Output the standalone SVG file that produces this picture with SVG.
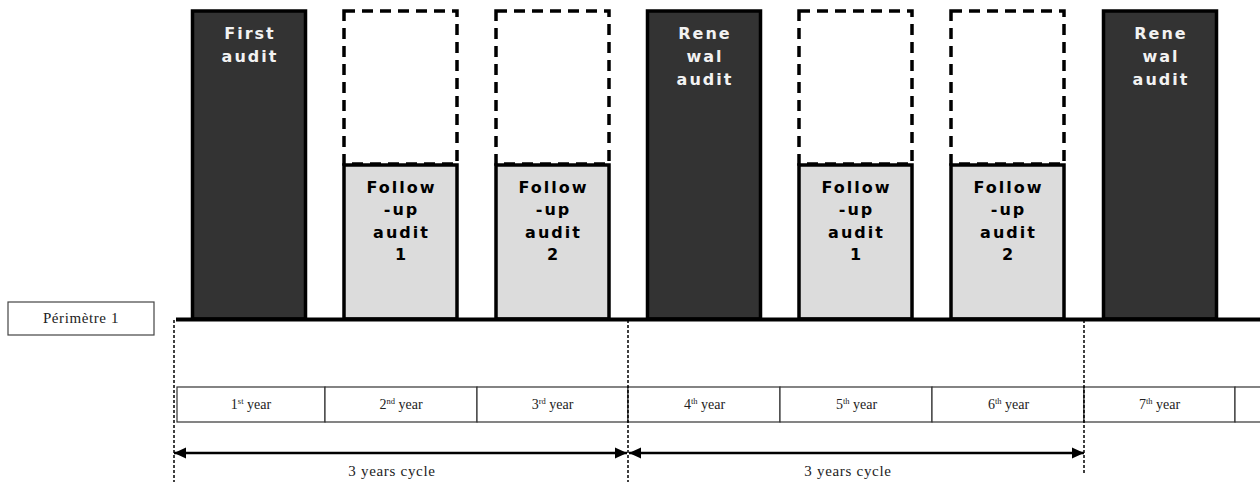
<svg xmlns="http://www.w3.org/2000/svg" width="1260" height="482" viewBox="0 0 1260 482">
<style>
.dark{fill:#333333;stroke:#000;stroke-width:3.5}
.grey{fill:#dcdcdc;stroke:#000;stroke-width:3.5}
.dash{fill:#fff;stroke:#000;stroke-width:3.5;stroke-dasharray:11 7}
.bt{font-family:"DejaVu Sans",Verdana,sans-serif;font-weight:bold;font-size:16px;letter-spacing:2px;text-anchor:middle}
.w{fill:#f2f2f2}
.k{fill:#000}
.yr{fill:#fff;stroke:#333;stroke-width:1.2}
.st{font-family:"Liberation Serif","Times New Roman",serif;font-size:14px;text-anchor:middle;fill:#222}
.sup{font-size:8.5px}
.vl{stroke:#000;stroke-width:1.5;stroke-dasharray:3 2;fill:none}
.arr{stroke:#000;stroke-width:2.5;fill:none;marker-start:url(#ah);marker-end:url(#ah)}
.cy{font-size:15px;letter-spacing:0.7px}
</style>
<defs>
<marker id="ah" viewBox="0 0 12 12" refX="12" refY="6" markerWidth="12" markerHeight="12" markerUnits="userSpaceOnUse" orient="auto-start-reverse">
<path d="M0,0.5 L12,6 L0,11.5 Z" fill="#000"/>
</marker>
</defs>
<rect width="1260" height="482" fill="#fff"/>

<g id="perimetre">
<rect x="8" y="302" width="146" height="33" fill="#fff" stroke="#444" stroke-width="1.2"/>
<text x="81" y="323" class="st" style="font-size:15px;letter-spacing:0.6px">Périmètre 1</text>
</g>

<g id="first-audit">
<rect class="dark" x="192.5" y="11" width="113" height="308"/>
<text class="bt w" x="250"><tspan x="250" y="39">First</tspan><tspan x="250" y="62">audit</tspan></text>
</g>

<g id="follow-up-1a">
<rect class="dash" x="344" y="11" width="113" height="153"/>
<rect class="grey" x="344" y="165" width="113" height="154"/>
<text class="bt k" x="401.5"><tspan x="401.5" y="193">Follow</tspan><tspan x="401.5" y="215">-up</tspan><tspan x="401.5" y="238">audit</tspan><tspan x="401.5" y="260">1</tspan></text>
</g>

<g id="follow-up-2a">
<rect class="dash" x="496" y="11" width="113" height="153"/>
<rect class="grey" x="496" y="165" width="113" height="154"/>
<text class="bt k" x="553.5"><tspan x="553.5" y="193">Follow</tspan><tspan x="553.5" y="215">-up</tspan><tspan x="553.5" y="238">audit</tspan><tspan x="553.5" y="260">2</tspan></text>
</g>

<g id="renewal-audit-1">
<rect class="dark" x="647.5" y="11" width="113" height="308"/>
<text class="bt w" x="705"><tspan x="705" y="39">Rene</tspan><tspan x="705" y="62">wal</tspan><tspan x="705" y="85">audit</tspan></text>
</g>

<g id="follow-up-1b">
<rect class="dash" x="799" y="11" width="113" height="153"/>
<rect class="grey" x="799" y="165" width="113" height="154"/>
<text class="bt k" x="856.5"><tspan x="856.5" y="193">Follow</tspan><tspan x="856.5" y="215">-up</tspan><tspan x="856.5" y="238">audit</tspan><tspan x="856.5" y="260">1</tspan></text>
</g>

<g id="follow-up-2b">
<rect class="dash" x="951" y="11" width="113" height="153"/>
<rect class="grey" x="951" y="165" width="113" height="154"/>
<text class="bt k" x="1008.5"><tspan x="1008.5" y="193">Follow</tspan><tspan x="1008.5" y="215">-up</tspan><tspan x="1008.5" y="238">audit</tspan><tspan x="1008.5" y="260">2</tspan></text>
</g>

<g id="renewal-audit-2">
<rect class="dark" x="1103.5" y="11" width="113" height="308"/>
<text class="bt w" x="1161"><tspan x="1161" y="39">Rene</tspan><tspan x="1161" y="62">wal</tspan><tspan x="1161" y="85">audit</tspan></text>
</g>

<g id="baseline">
<line x1="176" y1="319.5" x2="1260" y2="319.5" stroke="#000" stroke-width="4"/>
</g>

<g id="years">
<rect class="yr" x="177" y="387" width="148" height="35"/>
<rect class="yr" x="325" y="387" width="152" height="35"/>
<rect class="yr" x="477" y="387" width="151" height="35"/>
<rect class="yr" x="628" y="387" width="152" height="35"/>
<rect class="yr" x="780" y="387" width="152" height="35"/>
<rect class="yr" x="932" y="387" width="152" height="35"/>
<rect class="yr" x="1084" y="387" width="151" height="35"/>
<rect class="yr" x="1235" y="387" width="40" height="35"/>
<text class="st" x="251" y="409">1<tspan class="sup" dy="-5">st</tspan><tspan dy="5"> year</tspan></text>
<text class="st" x="401" y="409">2<tspan class="sup" dy="-5">nd</tspan><tspan dy="5"> year</tspan></text>
<text class="st" x="552.5" y="409">3<tspan class="sup" dy="-5">rd</tspan><tspan dy="5"> year</tspan></text>
<text class="st" x="704.5" y="409">4<tspan class="sup" dy="-5">th</tspan><tspan dy="5"> year</tspan></text>
<text class="st" x="856.5" y="409">5<tspan class="sup" dy="-5">th</tspan><tspan dy="5"> year</tspan></text>
<text class="st" x="1008.5" y="409">6<tspan class="sup" dy="-5">th</tspan><tspan dy="5"> year</tspan></text>
<text class="st" x="1159.5" y="409">7<tspan class="sup" dy="-5">th</tspan><tspan dy="5"> year</tspan></text>
</g>

<g id="connectors">
<line class="vl" x1="174" y1="320" x2="174" y2="482"/>
<line class="vl" x1="628" y1="320" x2="628" y2="482"/>
<line class="vl" x1="1084" y1="320" x2="1084" y2="474"/>
<line class="arr" x1="174" y1="453" x2="627" y2="453"/>
<line class="arr" x1="629" y1="453" x2="1084" y2="453"/>
</g>

<g id="cycle-labels">
<text class="st cy" x="392" y="476">3 years cycle</text>
<text class="st cy" x="848" y="476">3 years cycle</text>
</g>
</svg>
